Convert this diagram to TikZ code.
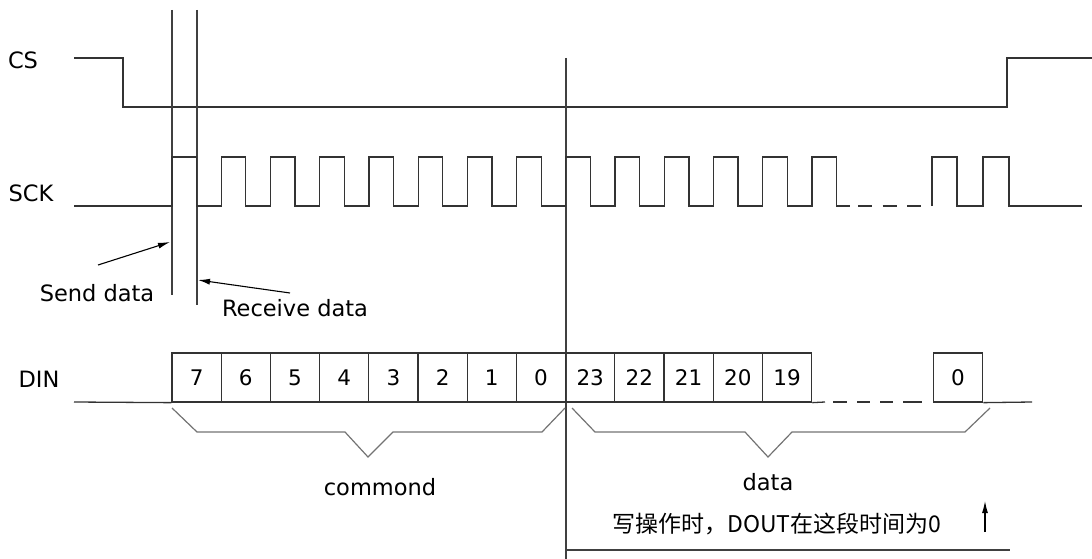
\documentclass[tikz,border=0pt]{standalone}
\usepackage{fontspec}
\setmainfont{DejaVu Sans}
\newfontfamily\cjkfont{Noto Sans CJK SC}
\usetikzlibrary{arrows.meta}
\tikzset{wave/.style={black!80, line width=1.3pt, line join=miter},
  guide/.style={black!75, line width=1.2pt},
  brace/.style={black!55, line width=1.2pt},
  pointer/.style={black, line width=1.1pt, -{Latex[length=12pt,width=6pt]}},
  lbl/.style={font=\fontsize{22.5}{27}\selectfont, inner sep=0pt},
  bitbox/.style={draw=black!80, line width=1.3pt, minimum width=49.2pt,
    minimum height=49pt, inner sep=0pt, font=\fontsize{21.5}{26}\selectfont}}

\begin{document}
\begin{tikzpicture}[x=1pt, y=-1pt]
  \useasboundingbox (0,0) rectangle (1092,559);
  % signal names
  \node[lbl] (cs) at (23,60) {CS};
  \node[lbl] (sck) at (31,193) {SCK};
  \node[lbl] (din) at (39,379) {DIN};
  % CS
  \draw[wave] (74,58) -- (123,58) -- (123,107) -- (1007,107) -- (1007,58) -- (1092,58);
  % marker lines
  \draw[guide] (172,10) -- (172,295);
  \draw[guide] (197,10) -- (197,305);
  \draw[guide] (566,58) -- (566,559);
  % SCK
  \draw[wave] (74,206) foreach \i in {0,...,13} {-- ({172+49.23*\i},206) -- ++(0,-49) -- ++(24.6,0) -- ++(0,49)} -- (850,206);
  \draw[wave, dash pattern=on 14pt off 10.5pt] (858,206) -- (922,206);
  \draw[wave] (932,206) -- ++(0,-49) -- ++(25,0) -- ++(0,49) -- ++(26,0) -- ++(0,-49) -- ++(26,0) -- ++(0,49) -- (1082,206);
  % send / receive
  \node[lbl] (send) at (97,293) {Send data};
  \node[lbl] (receive) at (295,308) {Receive data};
  \coordinate (sendtail) at (98,265);
  \coordinate (sendhead) at (170,242);
  \coordinate (recvtail) at (290,293);
  \coordinate (recvhead) at (198,280);
  \draw[pointer] (sendtail) -- (sendhead);
  \draw[pointer] (recvtail) -- (recvhead);
  % DIN
  \foreach \lab [count=\i from 0] in {7,6,5,4,3,2,1,0,23,22,21,20,19}
    \node[bitbox] (bit\i) at ({172+49.2*\i+24.6},377.5) {\lab};
  \node[bitbox] (bitlast) at (958,377.5) {0};
  \draw[wave] (74,402) -- (bit0.south west);
  \draw[wave] (bit12.south east) -- (825,402);
  \foreach \a/\b in {833/847,857/870,880/893,903/922}
    \draw[wave] (\a,402) -- (\b,402);
  \draw[wave] (bitlast.south east) -- (1032,402);
  % braces
  \draw[brace] (172,408) -- (197,432) -- (345,432) -- (368,457) -- (393,432) -- (542,432) -- (565,408);
  \draw[brace] (572,408) -- (595,432) -- (745,432) -- (768,457) -- (792,432) -- (965,432) -- (990,408);
  \node[lbl] (commond) at (380,487) {commond};
  \node[lbl] (datalbl) at (768,482) {data};
  % DOUT note
  \node[inner sep=0pt, font=\cjkfont\fontsize{23}{27}\selectfont] (note) at (777,524) {写操作时，DOUT在这段时间为0};
  \coordinate (uptail) at (985,532);
  \coordinate (uphead) at (985,501);
  \draw[pointer] (uptail) -- (uphead);
  \draw[guide] (566,550) -- (1010,550);
\end{tikzpicture}
\end{document}
